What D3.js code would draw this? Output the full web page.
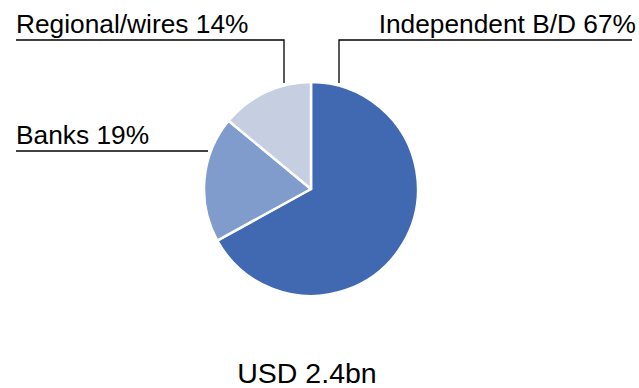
<!DOCTYPE html>
<html>
<head>
<meta charset="utf-8">
<script src="https://cdn.jsdelivr.net/npm/d3@7"></script>
<style>
  body { margin: 0; background: #fff; }
  text { font-family: "Liberation Sans", Arial, sans-serif; fill: #000; }
</style>
</head>
<body>
<svg id="chart" width="639" height="388"></svg>
<script>
const categories = ['Independent B/D', 'Banks', 'Regional/wires'];
const shares = [67, 19, 14];
const colours = ['#4169b2', '#809ccc', '#c6cee2'];
const totalLabel = 'USD 2.4bn';

const width = 639;
const height = 388;
const cx = 311;
const cy = 189;
const radius = 107;

const svg = d3.select('#chart');

const pie = d3.pie().sort(null).value(d => d.value);
const arc = d3.arc().innerRadius(0).outerRadius(radius);

const slices = pie(categories.map((name, i) => ({ name, value: shares[i], colour: colours[i] })));

const g = svg.append('g').attr('transform', `translate(${cx},${cy})`);

g.selectAll('path')
    .data(slices)
    .enter()
    .append('path')
    .attr('d', arc)
    .attr('fill', d => d.data.colour)
    .attr('stroke', '#fff')
    .attr('stroke-width', 2.5)
    .attr('stroke-linejoin', 'round');

// label placement: text anchor point, leader path in page coordinates
const labelLayout = {
    'Independent B/D': { x: 636, y: 33, anchor: 'end', line: [[632, 40], [339, 40], [339, 83]] },
    'Banks': { x: 16, y: 144, anchor: 'start', line: [[16, 151], [208, 151]] },
    'Regional/wires': { x: 16, y: 33, anchor: 'start', line: [[16, 40], [284, 40], [284, 83]] }
};

const labels = svg.append('g').attr('class', 'labels');

slices.forEach(s => {
    const l = labelLayout[s.data.name];
    labels.append('text')
        .attr('x', l.x)
        .attr('y', l.y)
        .attr('text-anchor', l.anchor)
        .attr('font-size', 26.3)
        .text(`${s.data.name} ${s.data.value}%`);
    labels.append('path')
        .attr('d', d3.line()(l.line))
        .attr('fill', 'none')
        .attr('stroke', '#000')
        .attr('stroke-width', 1.3);
});

svg.append('text')
    .attr('x', 307)
    .attr('y', 383)
    .attr('text-anchor', 'middle')
    .attr('font-size', 28.5)
    .text(totalLabel);
</script>
</body>
</html>
